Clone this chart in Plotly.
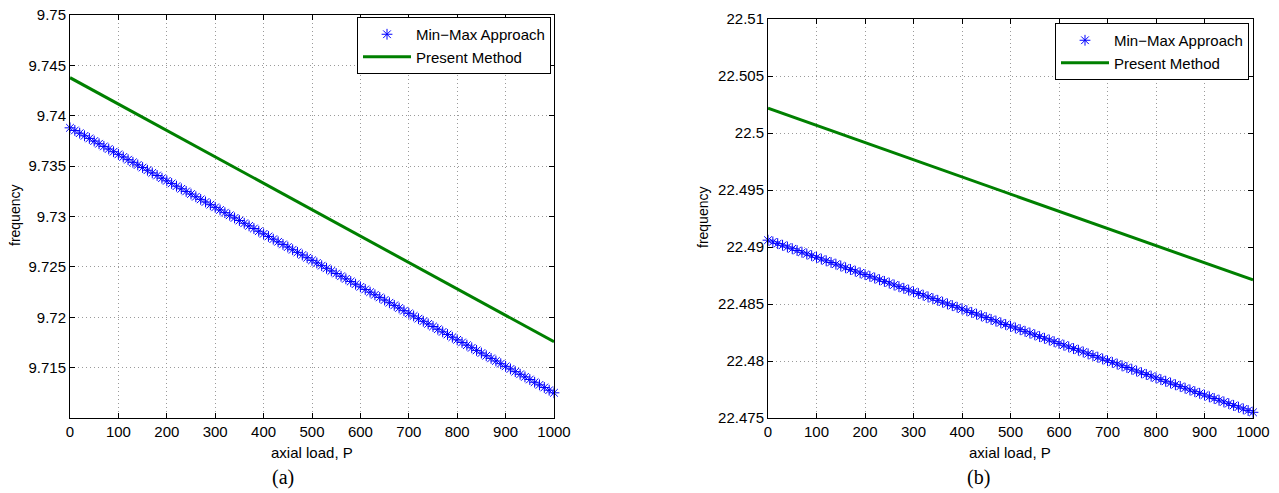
import plotly.graph_objects as go

W, H = 1279, 493

# ---------------- data ----------------
load_pts = list(range(0, 1001, 10))
load_line = [0, 100, 200, 300, 400, 500, 600, 700, 800, 900, 1000]

minmax_a = [
    9.73880, 9.73854, 9.73827, 9.73801, 9.73775, 9.73749, 9.73722, 9.73696, 9.73670, 9.73643,
    9.73617, 9.73591, 9.73564, 9.73538, 9.73512, 9.73486, 9.73459, 9.73433, 9.73407, 9.73380,
    9.73354, 9.73328, 9.73301, 9.73275, 9.73249, 9.73223, 9.73196, 9.73170, 9.73144, 9.73117,
    9.73091, 9.73065, 9.73038, 9.73012, 9.72986, 9.72960, 9.72933, 9.72907, 9.72881, 9.72854,
    9.72828, 9.72802, 9.72775, 9.72749, 9.72723, 9.72697, 9.72670, 9.72644, 9.72618, 9.72591,
    9.72565, 9.72539, 9.72512, 9.72486, 9.72460, 9.72434, 9.72407, 9.72381, 9.72355, 9.72328,
    9.72302, 9.72276, 9.72249, 9.72223, 9.72197, 9.72171, 9.72144, 9.72118, 9.72092, 9.72065,
    9.72039, 9.72013, 9.71986, 9.71960, 9.71934, 9.71908, 9.71881, 9.71855, 9.71829, 9.71802,
    9.71776, 9.71750, 9.71723, 9.71697, 9.71671, 9.71645, 9.71618, 9.71592, 9.71566, 9.71539,
    9.71513, 9.71487, 9.71460, 9.71434, 9.71408, 9.71382, 9.71355, 9.71329, 9.71303, 9.71276,
    9.71250,
]
present_a = [9.74378, 9.74116, 9.73854, 9.73592, 9.73330, 9.73068,
             9.72805, 9.72543, 9.72281, 9.72019, 9.71757]

minmax_b = [
    22.49060, 22.49045, 22.49030, 22.49015, 22.49000, 22.48985, 22.48969, 22.48954, 22.48939, 22.48924,
    22.48909, 22.48894, 22.48879, 22.48864, 22.48849, 22.48834, 22.48818, 22.48803, 22.48788, 22.48773,
    22.48758, 22.48743, 22.48728, 22.48713, 22.48698, 22.48683, 22.48667, 22.48652, 22.48637, 22.48622,
    22.48607, 22.48592, 22.48577, 22.48562, 22.48547, 22.48532, 22.48516, 22.48501, 22.48486, 22.48471,
    22.48456, 22.48441, 22.48426, 22.48411, 22.48396, 22.48381, 22.48365, 22.48350, 22.48335, 22.48320,
    22.48305, 22.48290, 22.48275, 22.48260, 22.48245, 22.48230, 22.48214, 22.48199, 22.48184, 22.48169,
    22.48154, 22.48139, 22.48124, 22.48109, 22.48094, 22.48079, 22.48063, 22.48048, 22.48033, 22.48018,
    22.48003, 22.47988, 22.47973, 22.47958, 22.47943, 22.47928, 22.47912, 22.47897, 22.47882, 22.47867,
    22.47852, 22.47837, 22.47822, 22.47807, 22.47792, 22.47777, 22.47761, 22.47746, 22.47731, 22.47716,
    22.47701, 22.47686, 22.47671, 22.47656, 22.47641, 22.47626, 22.47610, 22.47595, 22.47580, 22.47565,
    22.47550,
]
present_b = [22.50217, 22.50066, 22.49916, 22.49765, 22.49615, 22.49464,
             22.49313, 22.49163, 22.49012, 22.48862, 22.48711]

x_ticks = [0, 100, 200, 300, 400, 500, 600, 700, 800, 900, 1000]
y_ticks_a = [9.715, 9.72, 9.725, 9.73, 9.735, 9.74, 9.745, 9.75]
y_text_a = ["9.715", "9.72", "9.725", "9.73", "9.735", "9.74", "9.745", "9.75"]
y_ticks_b = [22.475, 22.48, 22.485, 22.49, 22.495, 22.5, 22.505, 22.51]
y_text_b = ["22.475", "22.48", "22.485", "22.49", "22.495", "22.5", "22.505", "22.51"]

name_mm = "Min\u2212Max Approach"
name_pm = "Present Method"

# ---------------- styling ----------------
FONT = "Liberation Sans, Arial, sans-serif"
BLUE = "rgb(0,0,255)"
GREEN = "rgb(0,128,0)"


def px_x(v):
    return v / W


def px_y(v):
    return 1 - v / H


fig = go.Figure()

marker = dict(symbol="asterisk-open", size=9, color=BLUE, line=dict(color=BLUE, width=1))

fig.add_trace(go.Scatter(x=load_pts, y=minmax_a, mode="markers", name=name_mm,
                         marker=marker, xaxis="x", yaxis="y", legend="legend",
                         cliponaxis=False))
fig.add_trace(go.Scatter(x=load_line, y=present_a, mode="lines", name=name_pm,
                         line=dict(color=GREEN, width=3), xaxis="x", yaxis="y",
                         legend="legend", cliponaxis=False))
fig.add_trace(go.Scatter(x=load_pts, y=minmax_b, mode="markers", name=name_mm,
                         marker=marker, xaxis="x2", yaxis="y2", legend="legend2",
                         cliponaxis=False))
fig.add_trace(go.Scatter(x=load_line, y=present_b, mode="lines", name=name_pm,
                         line=dict(color=GREEN, width=3), xaxis="x2", yaxis="y2",
                         legend="legend2", cliponaxis=False))

common = dict(
    showline=True, linecolor="black", linewidth=1, mirror="ticks",
    ticks="inside", ticklen=5, tickcolor="black", tickwidth=1,
    showgrid=True, gridcolor="#9a9a9a", gridwidth=1, griddash="1px,3px",
    zeroline=False, automargin=False,
    tickfont=dict(family=FONT, size=15, color="black"),
)

xa_dom = [px_x(70), px_x(554)]
xb_dom = [px_x(768), px_x(1253)]
ya_dom = [px_y(418), px_y(15)]
yb_dom = [px_y(418), px_y(19)]

legend_style = dict(xanchor="left", yanchor="top", bgcolor="white", bordercolor="black",
                    borderwidth=1, itemwidth=48, tracegroupgap=0,
                    font=dict(family=FONT, size=15, color="black"))

fig.update_layout(
    width=W, height=H,
    margin=dict(l=0, r=0, t=0, b=0),
    paper_bgcolor="white", plot_bgcolor="white",
    font=dict(family=FONT, size=15, color="black"),
    xaxis=dict(domain=xa_dom, anchor="y", range=[0, 1000], tickvals=x_ticks, **common),
    yaxis=dict(domain=ya_dom, anchor="x", range=[9.71, 9.75], tickvals=y_ticks_a,
               ticktext=y_text_a, **common),
    xaxis2=dict(domain=xb_dom, anchor="y2", range=[0, 1000], tickvals=x_ticks, **common),
    yaxis2=dict(domain=yb_dom, anchor="x2", range=[22.475, 22.51], tickvals=y_ticks_b,
                ticktext=y_text_b, **common),
    legend=dict(x=px_x(357), y=px_y(17), **legend_style),
    legend2=dict(x=px_x(1055), y=px_y(23), **legend_style),
    showlegend=True,
)

ann = []
for xc, yc in [(15, 216), (703, 218)]:
    ann.append(dict(text="frequency", x=px_x(xc), y=px_y(yc), xref="paper", yref="paper",
                    showarrow=False, textangle=-90, xanchor="center", yanchor="middle",
                    font=dict(family=FONT, size=14, color="black")))
for xc in (312, 1010):
    ann.append(dict(text="axial load, P", x=px_x(xc), y=px_y(452), xref="paper", yref="paper",
                    showarrow=False, xanchor="center", yanchor="middle",
                    font=dict(family=FONT, size=15, color="black")))
for txt, xc in (("(a)", 283), ("(b)", 978)):
    ann.append(dict(text=txt, x=px_x(xc), y=px_y(477), xref="paper", yref="paper",
                    showarrow=False, xanchor="center", yanchor="middle",
                    font=dict(family="Liberation Serif, Times New Roman, serif", size=20,
                              color="black")))
fig.update_layout(annotations=ann)

fig.write_html("out.html")
